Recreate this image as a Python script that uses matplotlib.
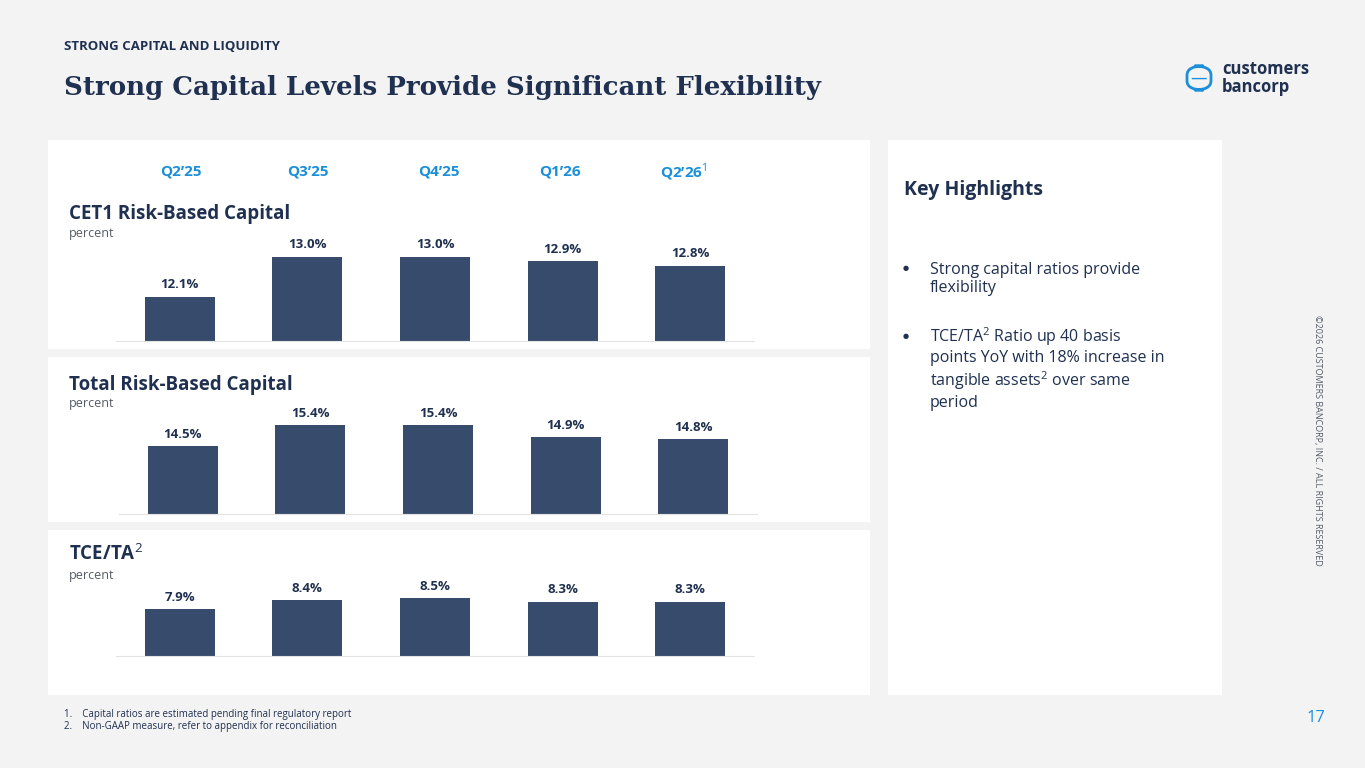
import matplotlib.pyplot as plt
from matplotlib.patches import Rectangle, FancyBboxPatch

# === DATA ===
quarters = ["Q2\u201925", "Q3\u201925", "Q4\u201925", "Q1\u201926", "Q2\u201926$^{1}$"]
cet1 = [12.1, 13.0, 13.0, 12.9, 12.8]
total_rbc = [14.5, 15.4, 15.4, 14.9, 14.8]
tce_ta = [7.9, 8.4, 8.5, 8.3, 8.3]

W, H = 1365, 768
NAVY = "#1f3050"
BAR = "#374c6d"
BLUE = "#1b8fd9"
FONT = "Open Sans"
plt.rcParams["mathtext.fontset"] = "custom"
plt.rcParams["mathtext.rm"] = FONT
plt.rcParams["mathtext.bf"] = FONT + ":bold"

fig = plt.figure(figsize=(W / 100, H / 100), dpi=100)
fig.patch.set_facecolor("#f3f3f3")


def px_box(x0, y0, x1, y1):
    return [x0 / W, 1 - y1 / H, (x1 - x0) / W, (y1 - y0) / H]


def txt(x, y, s, **kw):
    fig.text(x / W, 1 - y / H, s, **kw)


# white panels
for (x0, y0, x1, y1) in [(48, 140, 870, 349), (48, 357, 870, 522),
                         (48, 530, 870, 695), (888, 140, 1222, 695)]:
    fig.patches.append(Rectangle((x0 / W, 1 - y1 / H), (x1 - x0) / W, (y1 - y0) / H,
                                 transform=fig.transFigure, facecolor="white",
                                 edgecolor="none", zorder=-5))

# header
txt(64, 47, "STRONG CAPITAL AND LIQUIDITY", fontsize=9.5, fontweight="bold",
    color=NAVY, family=FONT, va="center")
txt(64, 87, "Strong Capital Levels Provide Significant Flexibility", fontsize=18.7,
    fontweight="bold", color=NAVY, family="DejaVu Serif", va="center")

# logo
fig.patches.append(FancyBboxPatch((1187 / W, 1 - 90 / H), 24 / W, 24 / H,
                                  boxstyle="round,pad=0,rounding_size=0.012",
                                  transform=fig.transFigure, facecolor="none",
                                  edgecolor="#1b8fd9", lw=2))
txt(1199, 78, "\u2014", fontsize=12, color=BLUE, ha="center", va="center")
txt(1222, 78, "customers\nbancorp", fontsize=12, fontweight="bold", color=NAVY,
    family=FONT, va="center", linespacing=0.95)

# quarter labels
for i, q in enumerate(quarters):
    x = [160, 287, 418, 539, 660][i]
    txt(x, 172, q, fontsize=11, fontweight="bold", color=BLUE, family=FONT,
        ha="left", va="center")

panels = [
    ("CET1 Risk-Based Capital", cet1, (116, 241, 754, 341), 11.1, 44.4, 214, 233),
    ("Total Risk-Based Capital", total_rbc, (119, 414, 757, 514), 11.6, 23.3, 385, 404),
    ("TCE/TA$^{2}$", tce_ta, (116, 576, 754, 656), 5.3, 18.0, 555, 576),
]

for title, vals, (x0, y0, x1, y1), base, scale, ty, sy in panels:
    ax = fig.add_axes(px_box(x0, y0, x1, y1))
    ax.set_zorder(2)
    ax.set_facecolor("none")
    xs = range(len(vals))
    ax.bar(xs, vals, width=0.55, color=BAR, bottom=0)
    ax.set_xlim(-0.5, len(vals) - 0.5)
    ax.set_ylim(base, base + (y1 - y0) / scale)
    for s in ["top", "right", "left"]:
        ax.spines[s].set_visible(False)
    ax.spines["bottom"].set_color("#e3e3e3")
    ax.set_xticks([])
    ax.set_yticks([])
    for xi, v in zip(xs, vals):
        ax.annotate(f"{v:.1f}%", (xi, v), xytext=(0, 4), textcoords="offset points",
                    ha="center", va="bottom", fontsize=9.5, fontweight="bold",
                    color=NAVY, family=FONT)
    txt(69, ty, title, fontsize=13.5, fontweight="bold", color=NAVY, family=FONT,
        va="center")
    txt(69, sy, "percent", fontsize=9, color="#555b66", family=FONT, va="center")

# key highlights
txt(904, 190, "Key Highlights", fontsize=14, fontweight="bold", color=NAVY,
    family=FONT, va="center")
txt(903, 268, "\u25cf", fontsize=5, color=NAVY, family="DejaVu Sans", va="center")
txt(930, 279, "Strong capital ratios provide\nflexibility", fontsize=11.5, color=NAVY,
    family=FONT, va="center", linespacing=1.2)
txt(903, 336, "\u25cf", fontsize=5, color=NAVY, family="DejaVu Sans", va="center")
txt(930, 368, "TCE/TA$^{2}$ Ratio up 40 basis\npoints YoY with 18% increase in\n"
    "tangible assets$^{2}$ over same\nperiod", fontsize=11.5, color=NAVY, family=FONT,
    va="center", linespacing=1.2)

# footnotes
txt(64, 715, "1.    Capital ratios are estimated pending final regulatory report",
    fontsize=7, color=NAVY, family=FONT, va="center")
txt(64, 727, "2.    Non-GAAP measure, refer to appendix for reconciliation",
    fontsize=7, color=NAVY, family=FONT, va="center")
txt(1325, 718, "17", fontsize=12, color=BLUE, family=FONT, ha="right", va="center")
txt(1318, 440, "\u00a92026 CUSTOMERS BANCORP, INC. / ALL RIGHTS RESERVED", fontsize=6.5,
    color="#555b66", family=FONT, rotation=270, ha="center", va="center")

fig.savefig("out.png", dpi=100, facecolor=fig.get_facecolor())
